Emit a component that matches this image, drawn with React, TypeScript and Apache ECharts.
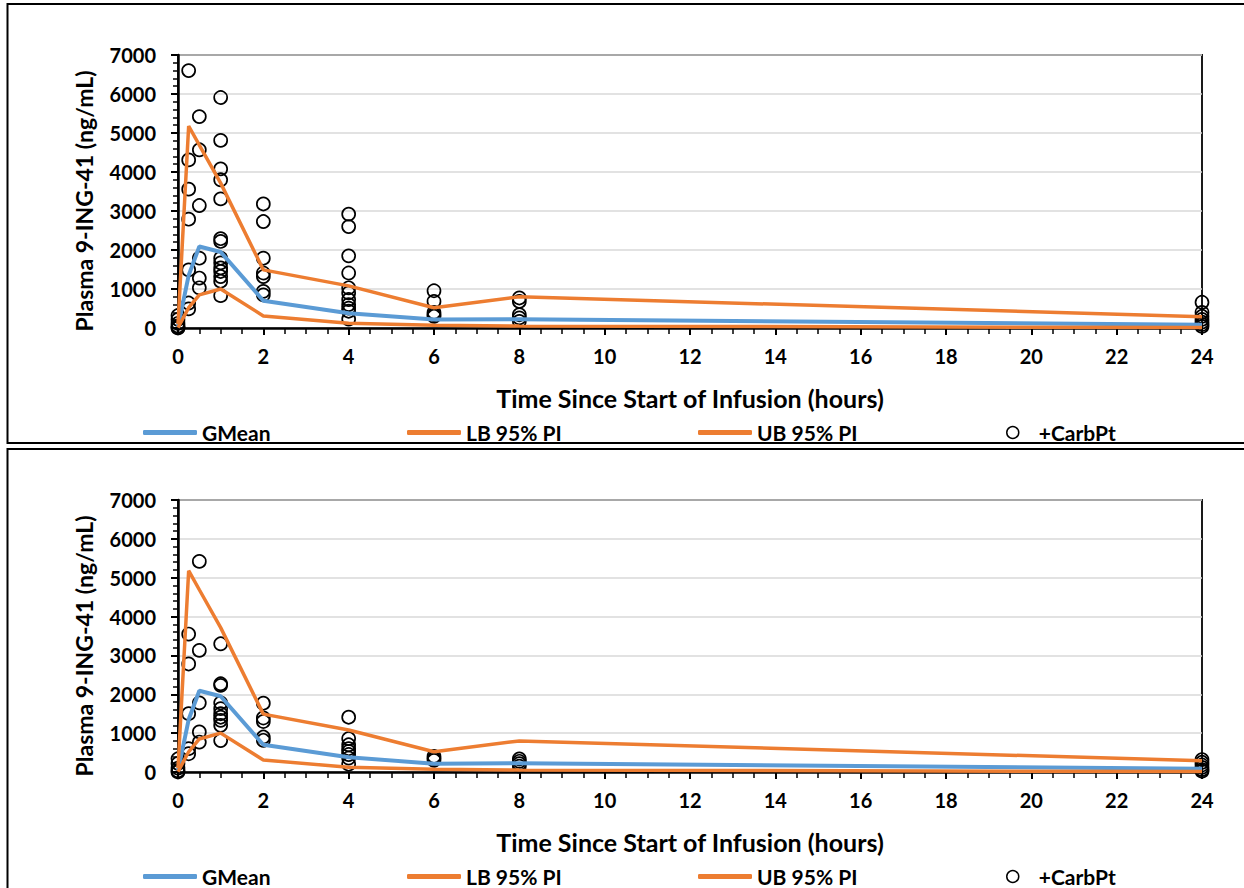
import React, { useEffect, useRef } from "react";
import * as echarts from "echarts";

// Model prediction lines (hours → ng/mL)
const lineTimes = [0, 0.25, 0.5, 1, 2, 4, 6, 8, 24];
const gmean = [30, 1350, 2090, 1950, 700, 380, 215, 225, 85];
const lb95 = [10, 520, 850, 1000, 310, 120, 70, 50, 10];
const ub95 = [100, 5180, 4690, 3715, 1490, 1080, 520, 800, 290];

// Observed +CarbPt concentrations, one list per nominal time point
const sampleTimes = [0, 0.25, 0.5, 1, 2, 4, 6, 8, 24];
const topObs = [
  [320, 220, 120, 50, 10, 0],
  [6600, 4310, 3560, 2790, 1490, 640, 490],
  [5420, 4570, 3140, 1790, 1280, 1030],
  [5910, 4810, 4080, 3800, 3310, 2290, 2220, 1790, 1670, 1540, 1450, 1320, 1200, 830],
  [3180, 2730, 1790, 1410, 1320, 940, 850],
  [2920, 2600, 1850, 1410, 1030, 900, 730, 600, 510, 430, 230],
  [955, 680, 400, 340, 300],
  [770, 680, 340, 260, 170],
  [660, 400, 300, 220, 150, 90, 40],
];
const bottomObs = [
  [340, 220, 100, 30, 0],
  [3550, 2780, 1500, 600, 470],
  [5420, 3130, 1780, 1030, 770],
  [3300, 2270, 2230, 1780, 1630, 1500, 1410, 1330, 1200, 810],
  [1770, 1390, 1300, 900, 815],
  [1410, 860, 700, 600, 530, 450, 360, 200],
  [400, 345, 300],
  [335, 275, 215, 150],
  [320, 250, 180, 120, 60, 20],
];

const xTicks = { min: 0, max: 24, interval: 2 };
const yTicks = { min: 0, max: 7000, interval: 1000 };
const seriesNames = ["GMean", "LB 95% PI", "UB 95% PI", "+CarbPt"];
const seriesColors = ["#5b9bd5", "#ed7d31", "#ed7d31", "#000"];
const yTitle = "Plasma 9-ING-41 (ng/mL)";
const xTitle = "Time Since Start of Infusion (hours)";

const FONT = "Lato, 'DejaVu Sans', sans-serif";

export default function App() {
  const ref = useRef<HTMLDivElement>(null);
  useEffect(() => {
    if (!ref.current) return;
    const chart = echarts.init(ref.current, null, { renderer: "svg" });

    const grids = [
      { left: 178, top: 55, width: 1024, height: 273 },
      { left: 178, top: 500, width: 1024, height: 272 },
    ];

    const xAxes: any[] = [];
    const yAxes: any[] = [];
    grids.forEach((_, gi) => {
      xAxes.push({
        type: "value",
        gridIndex: gi,
        ...xTicks,
        name: xTitle,
        nameLocation: "middle",
        nameGap: 57,
        nameTextStyle: { fontFamily: FONT, fontWeight: "bold", fontSize: 25, color: "#000" },
        axisLine: { show: true, onZero: false, lineStyle: { color: "#000", width: 2.5 } },
        axisTick: { show: true, inside: false, length: 7, lineStyle: { color: "#000", width: 2 } },
        minorTick: { show: true, splitNumber: 4, length: 6, lineStyle: { color: "#000", width: 1.5 } },
        axisLabel: { fontFamily: FONT, fontWeight: "bold", fontSize: 20, color: "#000", margin: 18 },
        splitLine: { show: false },
      });
      xAxes.push({
        type: "value",
        gridIndex: gi,
        ...xTicks,
        axisLine: { show: false },
        axisTick: { show: true, inside: true, length: 6, lineStyle: { color: "#000", width: 2 } },
        axisLabel: { show: false },
        splitLine: { show: false },
      });
      yAxes.push({
        type: "value",
        gridIndex: gi,
        ...yTicks,
        axisLine: { show: true, onZero: false, lineStyle: { color: "#000", width: 2.5 } },
        axisTick: { show: true, inside: false, length: 7, lineStyle: { color: "#000", width: 2 } },
        minorTick: { show: true, splitNumber: 5, length: 5, lineStyle: { color: "#000", width: 1.5 } },
        axisLabel: {
          fontFamily: FONT, fontWeight: "bold", fontSize: 20, color: "#000", margin: 22,
          formatter: (v: number) => String(v),
        },
        splitLine: { show: true, lineStyle: { color: "#d9d9d9", width: 1.5 } },
      });
      yAxes.push({
        type: "value",
        gridIndex: gi,
        ...yTicks,
        axisLine: { show: false },
        axisTick: { show: true, inside: true, length: 6, lineStyle: { color: "#000", width: 2 } },
        axisLabel: { show: false },
        splitLine: { show: false },
      });
    });

    const pairs = (vals: number[]) => lineTimes.map((t, i) => [t, vals[i]]);
    const obsPairs = (obs: number[][]) => {
      const out: number[][] = [];
      obs.forEach((list, i) => list.forEach((v) => out.push([sampleTimes[i], v])));
      return out;
    };

    const series: any[] = [];
    [topObs, bottomObs].forEach((obs, gi) => {
      const ax = gi * 2;
      [gmean, lb95, ub95].forEach((vals, k) => {
        series.push({
          name: seriesNames[k], type: "line", xAxisIndex: ax, yAxisIndex: ax,
          data: pairs(vals), symbol: "none",
          lineStyle: { color: seriesColors[k], width: k === 0 ? 4 : 3.5 },
          itemStyle: { color: seriesColors[k] },
        });
      });
      series.push({
        name: seriesNames[3], type: "scatter", xAxisIndex: ax, yAxisIndex: ax,
        data: obsPairs(obs), symbol: "circle", symbolSize: 13,
        itemStyle: { color: "rgba(0,0,0,0)", borderColor: "#000", borderWidth: 1.7, opacity: 1 },
      });
    });

    const legendLefts = [143, 407, 698, 1006];
    const legendTops = [422, 866];
    const legends: any[] = [];
    legendTops.forEach((top) => {
      seriesNames.forEach((n, i) => {
        const isScatter = i === 3;
        legends.push({
          data: [n],
          left: legendLefts[i],
          top,
          padding: 0,
          selectedMode: false,
          itemWidth: isScatter ? 12 : 54,
          itemHeight: isScatter ? 12 : 5,
          itemGap: 0,
          icon: isScatter ? "circle" : "roundRect",
          itemStyle: isScatter
            ? { color: "rgba(0,0,0,0)", borderColor: "#000", borderWidth: 1.5 }
            : { color: seriesColors[i], borderWidth: 0 },
          textStyle: {
            fontFamily: FONT, fontWeight: "bold", fontSize: 21, color: "#000", lineHeight: 21,
            padding: isScatter ? [0, 0, 0, 15] : [0, 0, 0, 0],
          },
        });
      });
    });

    const titleStyle = { text: yTitle, fontFamily: FONT, fontWeight: "bold", fontSize: 23, fill: "#000", align: "center", verticalAlign: "middle" };
    const graphic: any[] = [
      { type: "rect", shape: { x: 7.5, y: 4, width: 1300, height: 439 }, style: { fill: "none", stroke: "#000", lineWidth: 2 }, silent: true },
      { type: "rect", shape: { x: 7.5, y: 449, width: 1300, height: 500 }, style: { fill: "none", stroke: "#000", lineWidth: 2 }, silent: true },
      { type: "text", x: 84, y: 201, rotation: Math.PI / 2, style: titleStyle },
      { type: "text", x: 84, y: 646, rotation: Math.PI / 2, style: titleStyle },
    ];

    chart.setOption({
      animation: false,
      backgroundColor: "#fff",
      grid: grids.map((g) => ({ ...g, show: true, borderColor: "#1a1a1a", borderWidth: 2, backgroundColor: "transparent" })),
      xAxis: xAxes,
      yAxis: yAxes,
      series,
      legend: legends,
      graphic,
    });
    return () => chart.dispose();
  }, []);

  return <div ref={ref} style={{ position: "absolute", left: 0, top: 0, width: 1244, height: 888 }} />;
}
